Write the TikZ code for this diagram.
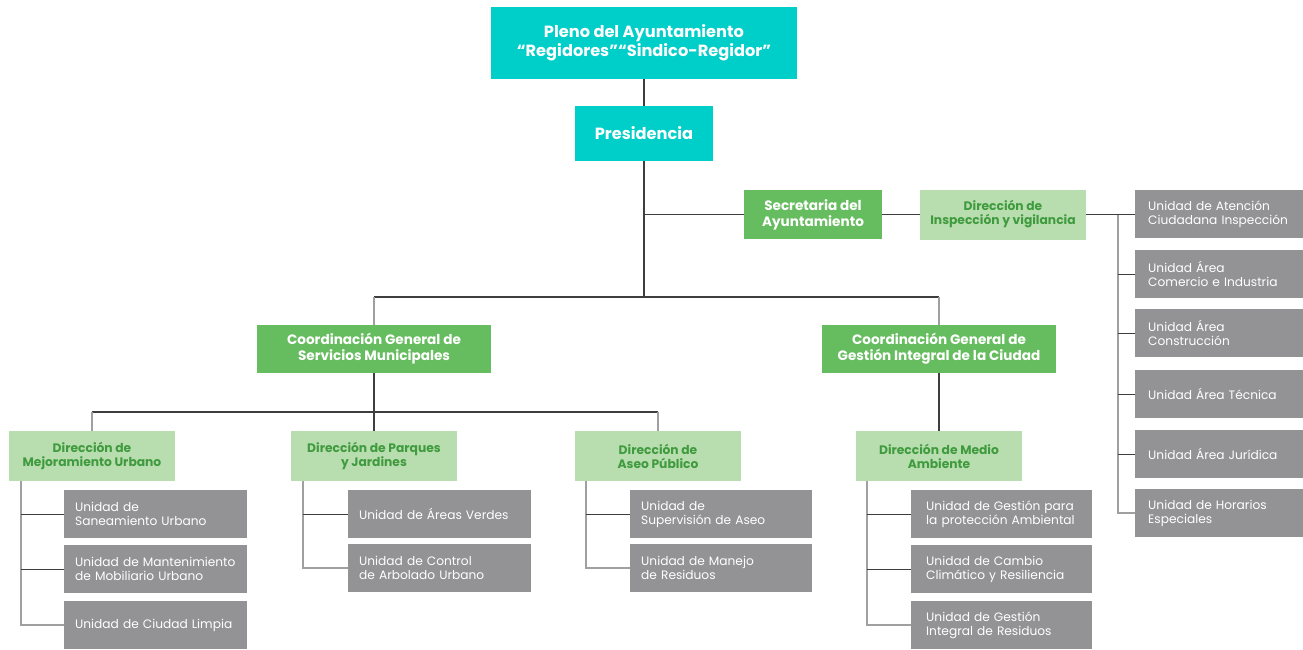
\documentclass[tikz,border=0pt]{standalone}
\usepackage{fontspec}
\setmainfont{Poppins}
\definecolor{teal1}{HTML}{00CEC9}
\definecolor{green1}{HTML}{66BD5F}
\definecolor{lgreen}{HTML}{B8DDAF}
\definecolor{dgreen}{HTML}{3F9B3E}
\definecolor{ugray}{HTML}{939396}
\definecolor{lnd}{HTML}{3E3E3E}
\definecolor{lng}{HTML}{A0A0A0}
\begin{document}
\begin{tikzpicture}[x=1pt,y=-1pt,
  top/.style={fill=teal1,text=white,font=\bfseries\fontsize{16.2}{19}\selectfont,align=center,inner sep=0pt},
  coord/.style={fill=green1,text=white,font=\bfseries\fontsize{13.6}{16}\selectfont,align=center,inner sep=0pt,minimum height=48pt},
  dirb/.style={fill=lgreen,text=dgreen,font=\bfseries\fontsize{12.3}{14}\selectfont,align=center,inner sep=0pt,minimum height=50pt,minimum width=166pt},
  unit/.style={fill=ugray,text=white,font=\fontsize{12.2}{14}\selectfont,align=left,inner xsep=11pt,inner ysep=0pt,minimum height=48pt,anchor=north west},
  conn/.style={draw=lnd,line width=1.1pt},
  spine/.style={draw=lng,line width=1.6pt},
  tick/.style={draw=lnd,line width=1.1pt}]
\useasboundingbox (0,0) rectangle (1303,649);
% top
\node[top,minimum width=306pt,minimum height=72pt] (pleno) at (644,43) {Pleno del Ayuntamiento\\“Regidores”“Sindico-Regidor”};
\node[top,minimum width=138pt,minimum height=55pt] (pres) at (644,133.5) {Presidencia};
\node[coord,minimum width=138pt,minimum height=49pt] (sec) at (813,214.5) {Secretaria del\\Ayuntamiento};
\node[dirb,minimum width=166pt] (dir) at (1003,214.5) {Dirección de\\Inspección y vigilancia};
% right column
\node[unit,inner xsep=13pt,text width=142pt] (ua1) at (1135,190) {Unidad de Atención\\Ciudadana Inspección};
\node[unit,inner xsep=13pt,text width=142pt] (ua2) at (1135,250) {Unidad Área\\Comercio e Industria};
\node[unit,inner xsep=13pt,text width=142pt] (ua3) at (1135,309) {Unidad Área\\Construcción};
\node[unit,inner xsep=13pt,text width=142pt] (ua4) at (1135,370) {Unidad Área Técnica};
\node[unit,inner xsep=13pt,text width=142pt] (ua5) at (1135,430) {Unidad Área Jurídica};
\node[unit,inner xsep=13pt,text width=142pt] (ua6) at (1135,489) {Unidad de Horarios\\Especiales};
% coordinations
\node[coord,minimum width=234pt] (cgs) at (374,349) {Coordinación General de\\Servicios Municipales};
\node[coord,minimum width=234pt] (cgg) at (939,349) {Coordinación General de\\Gestión Integral de la Ciudad};
% directions
\node[dirb] (dmu) at (92,456) {Dirección de\\Mejoramiento Urbano};
\node[dirb] (dpj) at (374,456) {Dirección de Parques\\y Jardines};
\node[dirb] (dap) at (658,456) {Dirección de\\Aseo Público};
\node[dirb] (dma) at (939,456) {Dirección de Medio\\Ambiente};
% units
\node[unit,text width=161pt] (m1) at (64,490) {Unidad de\\Saneamiento Urbano};
\node[unit,text width=161pt] (m2) at (64,545) {Unidad de Mantenimiento\\de Mobiliario Urbano};
\node[unit,text width=161pt] (m3) at (64,601) {Unidad de Ciudad Limpia};
\node[unit,text width=161pt] (p1) at (348,490) {Unidad de Áreas Verdes};
\node[unit,text width=161pt] (p2) at (348,544) {Unidad de Control\\de Arbolado Urbano};
\node[unit,text width=160pt] (a1) at (630,490) {Unidad de\\Supervisión de Aseo};
\node[unit,text width=160pt] (a2) at (630,544) {Unidad de Manejo\\de Residuos};
\node[unit,inner xsep=15pt,text width=151pt] (e1) at (911,490) {Unidad de Gestión para\\la protección Ambiental};
\node[unit,inner xsep=15pt,text width=151pt] (e2) at (911,545) {Unidad de Cambio\\Climático y Resiliencia};
\node[unit,inner xsep=15pt,text width=151pt] (e3) at (911,601) {Unidad de Gestión\\Integral de Residuos};
% connectors top
\coordinate (j1) at (644,297);
\coordinate (j2) at (374,412);
\draw[conn] (pleno) -- (pres);
\draw[conn] (pres.south) -- (j1);
\draw[conn] (sec.west) -- (sec.west -| pres.south);
\draw[conn] (sec.east) -- (dir.west);
\draw[conn] (dir.east) -- (dir.east -| ua1.west);
\draw[conn] (cgs.north |- j1) -- (cgg.north |- j1);
\draw[spine] (cgs.north |- j1) -- (cgs.north);
\draw[spine] (cgg.north |- j1) -- (cgg.north);
\draw[conn] (cgs.south) -- (dpj.north);
\draw[conn] (dmu.north |- j2) -- (dap.north |- j2);
\draw[spine] (dmu.north |- j2) -- (dmu.north);
\draw[spine] (dap.north |- j2) -- (dap.north);
\draw[conn] (cgg.south) -- (dma.north);
% spines
\coordinate (sr) at (1118,214.5);
\draw[spine] (sr) |- (ua6.west);
\foreach \n in {ua2,ua3,ua4,ua5} \draw[tick] (\n.west -| sr) -- (\n.west);
\coordinate (sm) at (21,481);
\draw[spine] (sm) |- (m3.west);
\foreach \n in {m1,m2} \draw[tick] (\n.west -| sm) -- (\n.west);
\coordinate (sp) at (303,481);
\draw[spine] (sp) |- (p2.west);
\draw[tick] (p1.west -| sp) -- (p1.west);
\coordinate (sa) at (586,481);
\draw[spine] (sa) |- (a2.west);
\draw[tick] (a1.west -| sa) -- (a1.west);
\coordinate (se) at (867,481);
\draw[spine] (se) |- (e3.west);
\foreach \n in {e1,e2} \draw[tick] (\n.west -| se) -- (\n.west);
\end{tikzpicture}
\end{document}
